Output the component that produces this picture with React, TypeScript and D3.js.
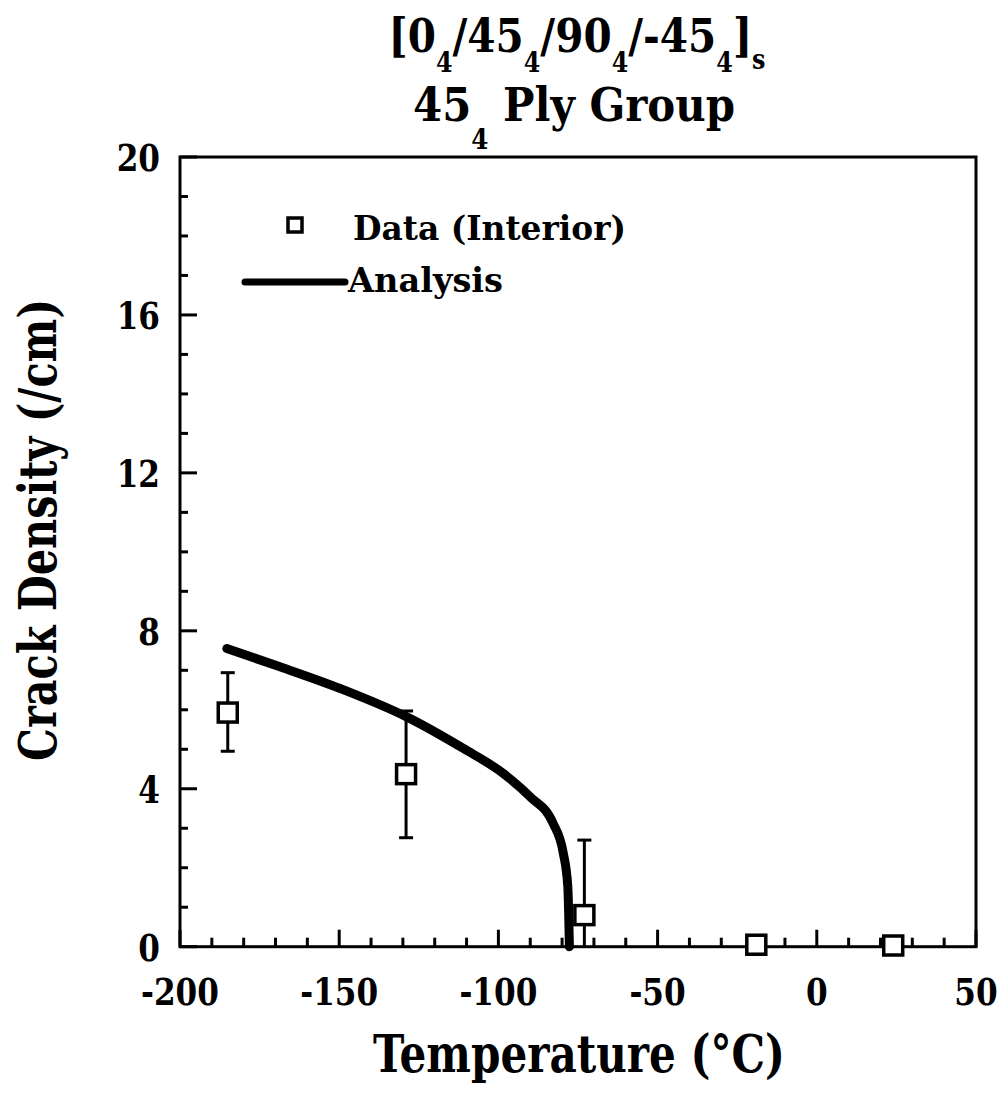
import React from "react";
import * as d3 from "d3";

const xMajorTicks = [-200, -150, -100, -50, 0, 50];
const yMajorTicks = [0, 4, 8, 12, 16, 20];

const dataTemp = [-185, -129, -73, -19, 24];
const dataDensity = [5.93, 4.37, 0.8, 0.05, 0.03];
const errLow: (number | null)[] = [4.95, 2.76, 0, null, null];
const errHigh: (number | null)[] = [6.94, 5.97, 2.7, null, null];

const analysisTemp = [-185.3, -168.6, -149.7, -128.8, -111, -98.5, -90.1, -82.8, -79.6, -78.2, -77.7];
const analysisDensity = [7.55, 7.09, 6.54, 5.82, 5.02, 4.39, 3.8, 3.12, 2.36, 1.52, 0];

const W = 1003;
const H = 1095;
const left = 180, right = 976, top = 157, bottom = 946.7;

export default function App() {
  const x = d3.scaleLinear().domain([-200, 50]).range([left, right]);
  const y = d3.scaleLinear().domain([0, 20]).range([bottom, top]);
  const xMinor = d3.range(-200, 51, 10);
  const yMinor = d3.range(0, 21, 1);
  const line = d3
    .line<number>()
    .x((_, i) => x(analysisTemp[i]))
    .y((_, i) => y(analysisDensity[i]))
    .curve(d3.curveMonotoneX);
  const font = "'DejaVu Serif', serif";
  const sq = 19;
  const sub = 27;
  return (
    <svg width={W} height={H} style={{ position: "absolute", left: 0, top: 0, background: "#fff" }} fontFamily={font}>
      <rect x={0} y={0} width={W} height={H} fill="#fff" />
      {/* Title */}
      <text x={577} y={52} fontSize={46} fontWeight="bold" textAnchor="middle" fill="#000" textLength={377} lengthAdjust="spacingAndGlyphs">
        [0<tspan fontSize={sub} dy={20}>4</tspan>
        <tspan dy={-20}>/45</tspan>
        <tspan fontSize={sub} dy={20}>4</tspan>
        <tspan dy={-20}>/90</tspan>
        <tspan fontSize={sub} dy={20}>4</tspan>
        <tspan dy={-20}>/-45</tspan>
        <tspan fontSize={sub} dy={20}>4</tspan>
        <tspan dy={-20}>]</tspan>
        <tspan fontSize={sub} dy={17}>s</tspan>
      </text>
      <text x={574} y={121} fontSize={46} fontWeight="bold" textAnchor="middle" fill="#000" textLength={322} lengthAdjust="spacingAndGlyphs">
        45<tspan fontSize={sub} dy={28}>4</tspan>
        <tspan dy={-28}> Ply Group</tspan>
      </text>

      {/* frame */}
      <rect x={left} y={top} width={right - left} height={bottom - top} fill="none" stroke="#000" strokeWidth={3} />

      {/* ticks */}
      {xMinor.map((v) => {
        const major = v % 50 === 0;
        return <line key={"xt" + v} x1={x(v)} x2={x(v)} y1={bottom} y2={bottom - (major ? 17 : 9)} stroke="#000" strokeWidth={3} />;
      })}
      {yMinor.map((v) => {
        const major = v % 4 === 0;
        return <line key={"yt" + v} x1={left} x2={left + (major ? 17 : 8)} y1={y(v)} y2={y(v)} stroke="#000" strokeWidth={3} />;
      })}
      {xMajorTicks.map((v) => (
        <text key={"xl" + v} x={x(v)} y={1005} fontSize={38} fontWeight="bold" textAnchor="middle" fill="#000" transform={`translate(${x(v)},0) scale(0.82,1) translate(${-x(v)},0)`}>
          {v}
        </text>
      ))}
      {yMajorTicks.map((v) => (
        <text key={"yl" + v} x={160} y={y(v) + 14} fontSize={38} fontWeight="bold" textAnchor="end" fill="#000" transform={`translate(160,0) scale(0.82,1) translate(-160,0)`}>
          {v}
        </text>
      ))}

      {/* axis titles */}
      <text x={579} y={1072} fontSize={52} fontWeight="bold" textAnchor="middle" fill="#000" textLength={412} lengthAdjust="spacingAndGlyphs">
        Temperature (°C)
      </text>
      <text transform="translate(56,530) rotate(-90)" x={0} y={0} fontSize={52} fontWeight="bold" textAnchor="middle" fill="#000" textLength={462} lengthAdjust="spacingAndGlyphs">
        Crack Density (/cm)
      </text>

      {/* analysis curve */}
      <path d={line(analysisTemp) || ""} fill="none" stroke="#000" strokeWidth={9} strokeLinecap="round" strokeLinejoin="round" />

      {/* error bars */}
      {dataTemp.map((t, i) => {
        const lo = errLow[i];
        const hi = errHigh[i];
        if (lo === null || hi === null) return null;
        const cx = x(t);
        return (
          <g key={"eb" + i} stroke="#000" strokeWidth={3}>
            <line x1={cx} x2={cx} y1={y(lo)} y2={y(hi)} />
            <line x1={cx - 7} x2={cx + 7} y1={y(hi)} y2={y(hi)} />
            {lo > 0 && <line x1={cx - 7} x2={cx + 7} y1={y(lo)} y2={y(lo)} />}
          </g>
        );
      })}
      {/* data squares */}
      {dataTemp.map((t, i) => (
        <rect key={"sq" + i} x={x(t) - sq / 2} y={y(dataDensity[i]) - sq / 2} width={sq} height={sq} fill="#fff" stroke="#000" strokeWidth={3.5} />
      ))}

      {/* legend */}
      <rect x={295 - 7} y={225 - 7} width={14} height={14} fill="#fff" stroke="#000" strokeWidth={3.5} />
      <text x={353} y={240} fontSize={34} fontWeight="bold" fill="#000" textLength={273} lengthAdjust="spacingAndGlyphs">
        Data (Interior)
      </text>
      <line x1={245} x2={345} y1={282} y2={282} stroke="#000" strokeWidth={7} strokeLinecap="round" />
      <text x={348} y={292} fontSize={34} fontWeight="bold" fill="#000" textLength={155} lengthAdjust="spacingAndGlyphs">
        Analysis
      </text>
    </svg>
  );
}
